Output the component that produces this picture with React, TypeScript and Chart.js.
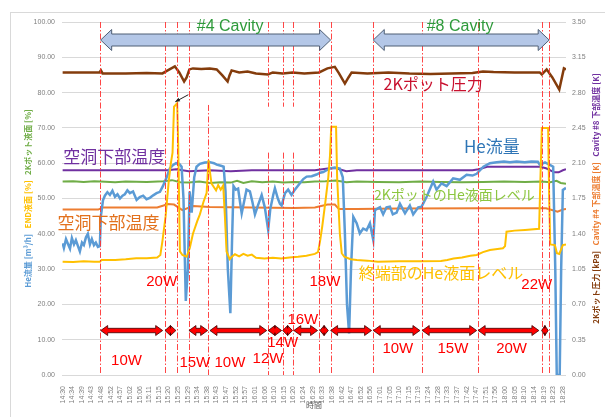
import React, { useEffect, useRef } from "react";
import { Chart, registerables } from "chart.js";

Chart.register(...registerables);

// ---------- x-axis (minutes since 14:30) ----------
const timeLabels = [
  "14:30", "14:34", "14:39", "14:43", "14:48", "14:52", "14:57",
  "15:02", "15:06", "15:11", "15:15", "15:20", "15:25", "15:29", "15:34", "15:38", "15:43", "15:47", "15:52", "15:57",
  "16:01", "16:06", "16:10", "16:15", "16:20", "16:24", "16:29", "16:33", "16:38", "16:42", "16:47", "16:52", "16:56",
  "17:01", "17:05", "17:10", "17:15", "17:19", "17:24", "17:28", "17:33", "17:37", "17:42", "17:47", "17:51", "17:56",
  "18:00", "18:05", "18:10", "18:14", "18:19", "18:23", "18:28",
];
const LABEL_STEP = 238 / 52;
const X_MIN = -0.3;
const X_MAX = 239.5;

const leftTicks = [0, 10, 20, 30, 40, 50, 60, 70, 80, 90, 100];
const rightTicks = [0, 0.35, 0.7, 1.05, 1.4, 1.75, 2.1, 2.45, 2.8, 3.15, 3.5];

// ---------- He flow [m3/h] (left axis) ----------
const heFlowT = [
  0, 0.6, 1.6, 2.5, 3.5, 4.4, 5.4, 6.3, 7.3, 8.2, 9.2, 10.1, 11.1, 12.0, 13.0, 13.9, 14.9, 15.8, 16.8, 17.7,
  18.2, 19.2, 20.1, 21.3, 22.5, 23.7, 24.9, 26.1, 27.3, 28.5, 29.6, 30.8, 32, 33.5, 35.2, 36.7, 38.3, 39.9, 41.5, 43.1,
  44.7, 46.3, 47.7, 49.5, 51, 52.6, 54, 55.5, 56.6, 57.5, 58.6, 59.6, 60.4, 61.4, 62.6, 63.7, 65.3, 67.7, 70.1, 72,
  73.3, 75.3, 76.6, 77.5, 78.6, 79.8, 80.6, 81.3, 82.4, 83.5, 84.4, 85.2, 86.3, 87.5, 89.1, 90.3, 91.5, 92.9, 94.7, 96.2,
  97.8, 98.8, 100.2, 101, 102.4, 103.4, 104.2, 105.8, 107.3, 108.9, 110.5, 112.9, 114.5, 116.1, 118.5, 120.8, 122.5, 124, 125.6, 127.2,
  129.5, 131.9, 133.3, 134.3, 135.3, 136.3, 137.2, 138.3, 139.9, 141.4, 143, 144.6, 146.2, 147.8, 148.6, 150, 151, 152.5, 154.1, 155.7,
  157.1, 158.9, 160.5, 162.9, 165.2, 166.8, 169.2, 170.8, 173.2, 176.3, 177.9, 180.3, 182.7, 185.8, 189, 192.2, 195, 197, 200.2, 203.3,
  206.5, 210, 212.8, 216, 219.9, 223, 226.1, 227.1, 229.5, 231.8, 233.4, 234.4, 235.1, 236.5, 237.2, 238, 239.5,
];
const heFlowV = [
  37.3, 36.0, 38.5, 37.2, 35.8, 38.8, 37.0, 38.2, 36.5, 35.0, 37.5, 36.8, 39.0, 40.0, 37.0, 38.5, 36.8, 37.5, 36.3, 36.5,
  45, 49.5, 50.8, 51.8, 51, 52.2, 50.5, 51.2, 50, 50.8, 51.2, 52.3, 51.5, 52, 49.6, 50.4, 50.8, 49.8, 50.2, 50.9,
  51.5, 51.9, 53.5, 56, 58.5, 59.5, 60, 59.8, 59, 50, 21, 30, 52, 46, 56, 59, 59.8, 60.2, 60.3, 60,
  59.6, 59.3, 59, 52, 30, 17.5, 38, 53.5, 52.5, 52.8, 49, 45.8, 49, 52.5, 52, 49, 45.5, 48, 51, 47.5,
  41.1, 47, 51, 52.9, 50, 48.5, 48, 51.5, 52.5, 51, 52.5, 54.3, 55.5, 56.2, 56.3, 56.8, 57.3, 57.5, 58, 58.5,
  58.8, 58.5, 56, 40, 20, 11.8, 30, 44.8, 43, 40.1, 41.5, 41, 43, 38.2, 46.7, 47.2, 47.5, 45.5, 47.5, 47.7,
  45.5, 46, 48.5, 45.8, 48, 45.5, 47.5, 47.7, 50.5, 54.8, 52.5, 54.3, 53.5, 55.7, 55.3, 56.7, 56.5, 57, 59, 60,
  60.3, 60.5, 60.3, 60.5, 60.3, 60.5, 60.4, 59.5, 60.2, 59.5, 59, 30, 0, 0, 30, 52.4, 53,
];

// ---------- END (terminal) He level [%] (left axis) ----------
const endLevelT = [
  0, 5, 10, 15, 17.8, 18.5, 25, 30, 35, 40, 45, 46.5, 47.5, 49, 50.5, 51.5, 52.3, 53, 54.5, 55,
  55.8, 57, 59, 60.5, 62, 64, 65.3, 67, 68.5, 69.4, 70, 70.8, 72, 73, 74, 75.2, 76.4, 77.2, 78, 79.5,
  80.5, 82, 84, 86, 88, 90, 92, 96, 100, 104, 108, 112, 116, 120, 121.5, 122.5, 123.5, 125, 126.4, 127.2,
  127.8, 130.1, 130.6, 131.9, 132.8, 134, 137, 140, 145, 150, 160, 170, 180, 183, 186, 190, 194, 197, 200, 203.3,
  206, 209.5, 210.5, 211.2, 215, 220, 226.7, 227.3, 228, 231, 231.5, 232, 234.2, 235.2, 236.3, 238, 239.5,
];
const endLevelV = [
  32.1, 32.0, 32.2, 32.1, 32.1, 32.6, 32.6, 32.8, 33.1, 33.1, 33.3, 34.0, 38, 45, 55, 60, 63, 76, 77, 65,
  35, 34, 33.5, 36, 40, 43.5, 45.5, 49, 51.5, 60.9, 58, 54.3, 53.2, 52.3, 53.8, 52.5, 53.7, 45, 35, 32.8,
  33.5, 34.2, 33.6, 34.3, 33.8, 34.1, 33.2, 33.0, 33.2, 33.0, 33.3, 33.5, 33.8, 34.3, 34.8, 38, 42, 49, 56, 62,
  70.3, 70.3, 56, 40, 34.5, 33.5, 32.8, 32.6, 32.4, 32.1, 32.2, 32.2, 32.3, 32.6, 33.0, 33.3, 33.8, 34.0, 34.8, 35.4,
  35.6, 35.9, 36.5, 40.6, 40.9, 41.1, 41.4, 55, 70, 70, 50, 37, 36.8, 34.5, 34.3, 36.8, 37,
];

// ---------- 2K pot He level [%] (left axis) ----------
const potLevelT = [
  0, 5, 10, 15, 18, 25, 30, 40, 48, 52, 56, 60, 65, 70, 75, 80, 83, 86, 90, 95,
  100, 105, 110, 115, 120, 125, 130, 135, 140, 150, 160, 170, 180, 190, 200, 210, 220, 228, 232, 235, 237, 239.5,
];
const potLevelV = [
  54.8, 54.9, 54.7, 54.9, 54.8, 54.6, 54.8, 54.7, 54.9, 55.2, 54.6, 54.5, 54.8, 54.4, 54.6, 54.5, 55.0, 54.4, 54.9, 54.6,
  54.8, 54.5, 54.7, 54.6, 54.8, 54.9, 55.1, 54.6, 54.8, 54.7, 54.6, 54.8, 54.7, 54.6, 54.7, 54.8, 54.7, 54.8, 54.6, 55.0, 54.4, 54.2,
];

// ---------- 2K pot pressure [kPa] (right axis) ----------
const potPressT = [
  0, 8, 17.5, 18.2, 19, 30, 40, 47.5, 50, 53.4, 55.5, 57.8, 59, 60.3, 62, 66, 70, 73.3, 76, 78.5,
  79.4, 80.4, 84, 88, 92, 97.7, 100, 104.7, 109.4, 115, 122, 126, 129.5, 131.5, 134.3, 136, 137.5, 145, 155, 165,
  175, 185, 195, 200, 205, 215, 227, 228, 230.3, 233, 236.3, 238.5, 239.5,
];
const potPressV = [
  3.0, 3.0, 3.0, 3.02, 2.99, 2.99, 2.995, 2.99, 3.02, 3.06, 3.0, 2.91, 2.95, 3.03, 3.04, 3.035, 3.04, 3.03, 2.97, 2.91,
  2.97, 3.02, 3.0, 3.01, 2.99, 2.98, 3.0, 2.99, 3.0, 2.99, 3.0, 3.04, 3.055, 2.99, 2.89, 2.95, 3.0, 2.99, 3.0, 2.99,
  2.985, 2.99, 2.995, 3.01, 3.005, 3.0, 3.0, 2.98, 3.03, 2.95, 2.83, 3.04, 3.03,
];

// ---------- Cavity #8 bottom temperature [K] (right axis) ----------
const cav8TempT = [0, 20, 50, 54, 60, 70, 80, 90, 120, 127, 130, 135, 140, 170, 195, 198, 202, 215, 227, 230, 234, 236, 238, 239.5];
const cav8TempV = [2.03, 2.03, 2.03, 2.04, 2.02, 2.03, 2.02, 2.03, 2.03, 2.05, 2.05, 2.02, 2.03, 2.03, 2.03, 2.04, 2.065, 2.065, 2.065, 2.05, 2.01, 2.01, 2.03, 2.04];

// ---------- Cavity #4 bottom temperature [K] (right axis) ----------
const cav4TempT = [0, 17, 19, 45, 48, 50, 53, 57, 62, 70, 90, 110, 120, 126, 129.5, 131.5, 140, 160, 200, 230, 235.5, 238, 239.5];
const cav4TempV = [1.64, 1.64, 1.66, 1.66, 1.68, 1.695, 1.69, 1.635, 1.675, 1.665, 1.66, 1.655, 1.66, 1.69, 1.69, 1.645, 1.645, 1.65, 1.653, 1.653, 1.62, 1.64, 1.645];

// ---------- annotations (heater steps) ----------
const heaterChangeT = [18.0, 48.7, 54.2, 60.1, 69.4, 97.8, 104.7, 109.4, 121.9, 127.5, 147.8, 171.1, 197.7, 227.9, 231.5];
const powerStepStart = [18.1, 48.7, 60.1, 70.1, 97.8, 104.7, 110.0, 122.4, 127.5, 147.8, 171.1, 197.7, 227.9];
const powerStepEnd = [47.6, 53.9, 69.0, 97.1, 104.2, 109.4, 121.3, 126.4, 147.0, 170.0, 197.0, 226.6, 231.0];
const cavityNames = ["#4 Cavity", "#8 Cavity"];
const cavityStart = [18.1, 147.8];
const cavityEnd = [127.5, 231.5];
const cavityLabelT = [79.7, 189.1];

const toXY = (t: number[], v: number[]) => t.map((x, i) => ({ x, y: v[i] }));

const JP = '"Noto Sans CJK JP", "Noto Sans", sans-serif';
const LAT = '"Liberation Sans", Arial, sans-serif';

function blockArrow(ctx: CanvasRenderingContext2D, x1: number, x2: number, y: number, sh: number, hh: number, hl: number, fill: string, stroke: string, lw: number) {
  const l = Math.min(hl, (x2 - x1) / 2);
  ctx.beginPath();
  ctx.moveTo(x1, y);
  ctx.lineTo(x1 + l, y - hh);
  ctx.lineTo(x1 + l, y - sh);
  ctx.lineTo(x2 - l, y - sh);
  ctx.lineTo(x2 - l, y - hh);
  ctx.lineTo(x2, y);
  ctx.lineTo(x2 - l, y + hh);
  ctx.lineTo(x2 - l, y + sh);
  ctx.lineTo(x1 + l, y + sh);
  ctx.lineTo(x1 + l, y + hh);
  ctx.closePath();
  ctx.fillStyle = fill;
  ctx.fill();
  ctx.lineWidth = lw;
  ctx.strokeStyle = stroke;
  ctx.stroke();
}

function multiColorTitle(ctx: CanvasRenderingContext2D, cx: number, cy: number, parts: [string, string][], font: string) {
  ctx.save();
  ctx.translate(cx, cy);
  ctx.rotate(-Math.PI / 2);
  ctx.font = font;
  ctx.textBaseline = "middle";
  ctx.textAlign = "left";
  const total = parts.reduce((s, p) => s + ctx.measureText(p[0]).width, 0);
  let x = -total / 2;
  for (const [txt, col] of parts) {
    ctx.fillStyle = col;
    ctx.fillText(txt, x, 0);
    x += ctx.measureText(txt).width;
  }
  ctx.restore();
}

const annotationPlugin = {
  id: "sketchAnnotations",
  afterDraw(chart: any) {
    const { ctx, chartArea, scales } = chart;
    const X = (t: number) => scales.x.getPixelForValue(t);
    const Y = (v: number) => scales.y.getPixelForValue(v);
    ctx.save();

    // outer chart frame
    ctx.strokeStyle = "#d9d9d9";
    ctx.lineWidth = 1;
    ctx.strokeRect(10.5, 12.5, 620, 430);

    // vertical heater-change lines
    ctx.strokeStyle = "rgba(255,50,50,0.9)";
    ctx.lineWidth = 1;
    ctx.setLineDash([6, 2, 1.5, 2]);
    heaterChangeT.forEach((t) => {
      let spans: [number, number][] = [[100, 0]];
      if (t === 69.4) spans = [[76.5, 0]];
      if (t === 97.8 || t === 104.7 || t === 109.4) spans = [[100, 76], [63, 0]];
      const x = Math.round(X(t)) + 0.5;
      for (const [a, b] of spans) {
        ctx.beginPath();
        ctx.moveTo(x, Y(a));
        ctx.lineTo(x, Y(b));
        ctx.stroke();
      }
    });
    ctx.setLineDash([]);

    // cavity block arrows
    cavityNames.forEach((name, i) => {
      blockArrow(ctx, X(cavityStart[i]), X(cavityEnd[i]), Y(94.9), 6, 10.5, 11, "#B4C7E7", "#4F5F75", 1);
      ctx.font = `16px ${LAT}`;
      ctx.fillStyle = "#2E9A3A";
      ctx.textAlign = "center";
      ctx.textBaseline = "middle";
      ctx.fillText(name, X(cavityLabelT[i]), Y(98.6));
    });

    // heater power step arrows
    powerStepStart.forEach((s, i) => {
      blockArrow(ctx, X(s), X(powerStepEnd[i]), Y(12.6), 2.2, 5, 7, "#FF0000", "#3a0000", 0.8);
    });

    // text labels
    const texts: [string, number, number, string, string][] = [
      ["2Kポット圧力", 176.3, 82.6, "#C8102E", `16px ${JP}`],
      ["空洞下部温度", 24.6, 61.8, "#7030A0", `17px ${JP}`],
      ["空洞下部温度", 21.8, 43.1, "#E2711D", `17px ${JP}`],
      ["He流量", 204.2, 64.7, "#2E75B6", `17px ${JP}`],
      ["2KポットのHe液面レベル", 186.4, 51.0, "#8CC63F", `14px ${JP}`],
      ["終端部のHe液面レベル", 180.0, 28.9, "#FFC000", `16px ${JP}`],
      ["20W", 47.1, 26.4, "#FF0000", `15px ${LAT}`],
      ["18W", 124.8, 26.4, "#FF0000", `15px ${LAT}`],
      ["22W", 225.6, 25.5, "#FF0000", `15px ${LAT}`],
      ["10W", 30.4, 4.0, "#FF0000", `15px ${LAT}`],
      ["15W", 62.9, 3.4, "#FF0000", `15px ${LAT}`],
      ["10W", 79.6, 3.4, "#FF0000", `15px ${LAT}`],
      ["12W", 97.7, 4.5, "#FF0000", `15px ${LAT}`],
      ["14W", 104.7, 9.2, "#FF0000", `15px ${LAT}`],
      ["16W", 114.3, 15.6, "#FF0000", `15px ${LAT}`],
      ["10W", 159.5, 7.4, "#FF0000", `15px ${LAT}`],
      ["15W", 185.7, 7.4, "#FF0000", `15px ${LAT}`],
      ["20W", 213.6, 7.4, "#FF0000", `15px ${LAT}`],
    ];
    ctx.textAlign = "center";
    ctx.textBaseline = "middle";
    for (const [txt, t, v, col, font] of texts) {
      ctx.font = font;
      ctx.fillStyle = col;
      ctx.fillText(txt, X(t), Y(v));
    }

    // small pointer arrow to the END-level peak
    {
      const x1 = X(59.8), y1 = Y(79.4), x2 = X(53.6), y2 = Y(77.4);
      ctx.strokeStyle = "#222";
      ctx.fillStyle = "#222";
      ctx.lineWidth = 1;
      ctx.beginPath();
      ctx.moveTo(x1, y1);
      ctx.lineTo(x2, y2);
      ctx.stroke();
      const ang = Math.atan2(y2 - y1, x2 - x1);
      ctx.beginPath();
      ctx.moveTo(x2, y2);
      ctx.lineTo(x2 - 5 * Math.cos(ang - 0.4), y2 - 5 * Math.sin(ang - 0.4));
      ctx.lineTo(x2 - 5 * Math.cos(ang + 0.4), y2 - 5 * Math.sin(ang + 0.4));
      ctx.closePath();
      ctx.fill();
    }

    // axis titles
    multiColorTitle(ctx, 28, (chartArea.top + chartArea.bottom) / 2, [
      ["He流量 [m³/h]", "#5B9BD5"],
      ["   END液面 [%]", "#FFC000"],
      ["   2Kポット液面 [%]", "#70AD47"],
    ], `bold 8px ${JP}`);
    multiColorTitle(ctx, 596, (chartArea.top + chartArea.bottom) / 2, [
      ["2Kポット圧力 [kPa]", "#843C0C"],
      ["   Cavity #4 下部温度 [K]", "#ED7D31"],
      ["   Cavity #8 下部温度 [K]", "#7030A0"],
    ], `bold 8px ${JP}`);

    ctx.font = `8px ${JP}`;
    ctx.fillStyle = "#595959";
    ctx.textAlign = "center";
    ctx.textBaseline = "middle";
    ctx.fillText("時間", (chartArea.left + chartArea.right) / 2, 405);

    ctx.restore();
  },
};

export default function App() {
  const ref = useRef<HTMLCanvasElement>(null);
  useEffect(() => {
    if (!ref.current) return;
    const line = (label: string, data: any, color: string, axis: string, w: number) => ({
      label, data, borderColor: color, backgroundColor: color, yAxisID: axis,
      borderWidth: w, pointRadius: 0, tension: 0, fill: false,
    });
    const chart = new Chart(ref.current, {
      type: "line",
      data: {
        datasets: [
          line("END液面", toXY(endLevelT, endLevelV), "#FFC000", "y", 2),
          line("He流量", toXY(heFlowT, heFlowV), "#5B9BD5", "y", 2.5),
          line("2Kポット圧力", toXY(potPressT, potPressV), "#843C0C", "y2", 2.5),
          line("Cavity #8 下部温度", toXY(cav8TempT, cav8TempV), "#7030A0", "y2", 2),
          line("Cavity #4 下部温度", toXY(cav4TempT, cav4TempV), "#ED7D31", "y2", 2),
          line("2Kポット液面", toXY(potLevelT, potLevelV), "#70AD47", "y", 2),
        ],
      },
      options: {
        responsive: false,
        devicePixelRatio: 1,
        animation: false,
        layout: { padding: { top: 22, left: 0, right: 0, bottom: 0 } },
        plugins: { legend: { display: false }, tooltip: { enabled: false } },
        scales: {
          x: {
            type: "linear",
            min: X_MIN,
            max: X_MAX,
            grid: { display: false },
            border: { display: false },
            afterBuildTicks: (scale: any) => {
              scale.ticks = timeLabels.map((_, i) => ({ value: i * LABEL_STEP }));
            },
            afterFit: (scale: any) => { scale.height = 42; },
            ticks: {
              autoSkip: false,
              minRotation: 90,
              maxRotation: 90,
              padding: 3,
              color: "#7f7f7f",
              font: { size: 7, family: LAT },
              callback: (_v: any, i: number) => timeLabels[i],
            },
          },
          y: {
            type: "linear",
            position: "left",
            min: 0,
            max: 100,
            afterBuildTicks: (scale: any) => { scale.ticks = leftTicks.map((value) => ({ value })); },
            afterFit: (scale: any) => { scale.width = 62; },
            grid: { color: "#d9d9d9", lineWidth: 1, drawTicks: false },
            border: { display: false },
            ticks: {
              padding: 7,
              color: "#7f7f7f",
              font: { size: 7, family: LAT },
              callback: (v: any) => Number(v).toFixed(2),
            },
          },
          y2: {
            type: "linear",
            position: "right",
            min: 0,
            max: 3.5,
            afterBuildTicks: (scale: any) => { scale.ticks = rightTicks.map((value) => ({ value })); },
            afterFit: (scale: any) => { scale.width = 39; },
            grid: { display: false, drawTicks: false },
            border: { display: false },
            ticks: {
              padding: 6,
              color: "#7f7f7f",
              font: { size: 7, family: LAT },
              callback: (v: any) => Number(v).toFixed(2),
            },
          },
        },
      },
      plugins: [annotationPlugin],
    } as any);
    return () => chart.destroy();
  }, []);
  return (
    <div style={{ position: "fixed", left: 0, top: 0, width: 605, height: 417, background: "#fff" }}>
      <canvas ref={ref} width={605} height={417} style={{ width: 605, height: 417, display: "block" }} />
    </div>
  );
}
